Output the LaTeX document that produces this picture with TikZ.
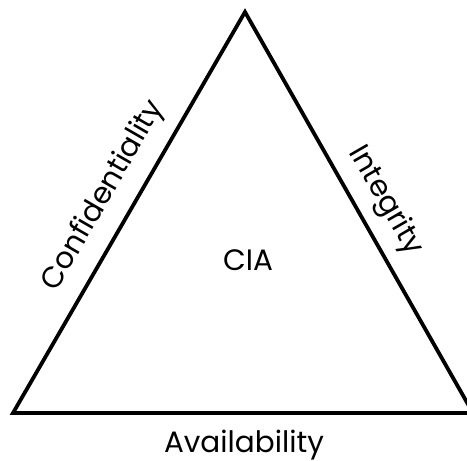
\documentclass[tikz,border=0pt]{standalone}
\usepackage{fontspec}
\setmainfont{Poppins}
\usetikzlibrary{calc}
\begin{document}
\begin{tikzpicture}[x=1pt,y=-1pt,
  edge/.style={line width=3.8pt,line join=miter},
  label/.style={font=\fontsize{29.5}{30}\selectfont,inner sep=0pt}]
\useasboundingbox (0,0) rectangle (467,461);
\clip (0,0) rectangle (467,461);
% corners of the triangle
\coordinate (top) at (245,12);
\coordinate (left) at (13,413);
\coordinate (right) at (473,413);
\draw[edge] (left) -- (top) -- (right) -- cycle;
% side labels
\node[label,rotate=60,anchor=base] (conf) at ($(left)!0.5!(top)+(-19,-13)$) {Confidentiality};
\node[label,rotate=-60,anchor=base] (integ) at ($(top)!0.5!(right)+(20,-8)$) {Integrity};
\node[label,anchor=base] (avail) at (244,452) {Availability};
\node[label,anchor=base] (cia) at (248,270) {CIA};
\end{tikzpicture}
\end{document}
